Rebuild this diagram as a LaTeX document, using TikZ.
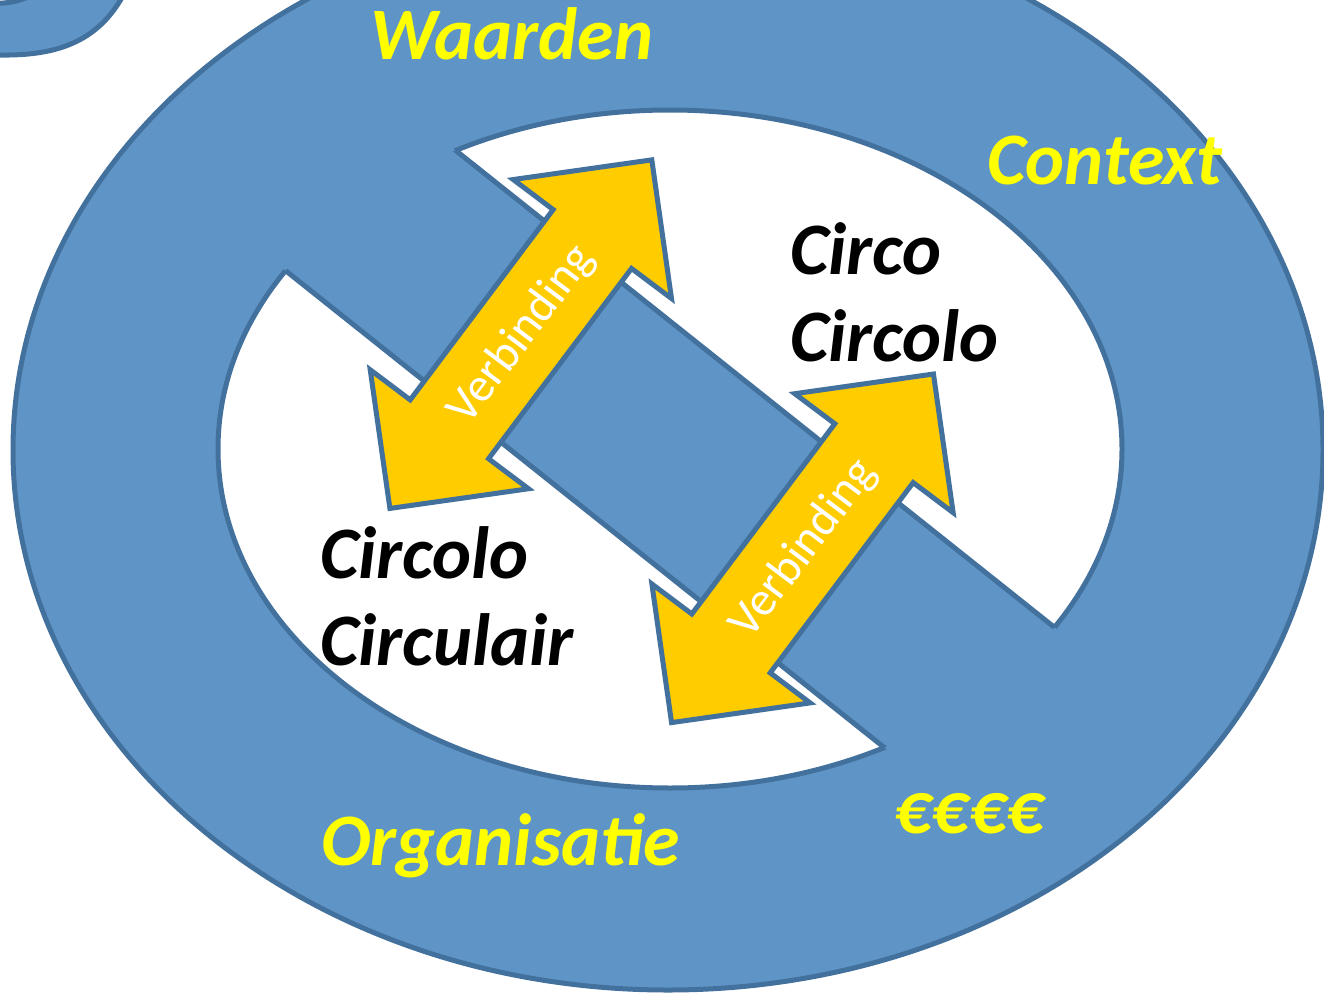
\documentclass[tikz,border=0pt]{standalone}
\usepackage{fontspec}
\setmainfont{Carlito}
\definecolor{ringblue}{RGB}{95,148,199}
\definecolor{edgeblue}{RGB}{67,113,157}
\definecolor{arrowgold}{RGB}{255,204,0}
\definecolor{labelyellow}{RGB}{255,255,0}
\tikzset{
  ringshape/.style={fill=ringblue, draw=edgeblue, line width=5pt},
  holeshape/.style={fill=white, draw=edgeblue, line width=5pt},
  bandfill/.style={fill=ringblue},
  edgeline/.style={draw=edgeblue, line width=5pt},
  dblarrow/.style={fill=arrowgold, draw=edgeblue, line width=5pt},
  arrowlabel/.style={text=white, font=\fontsize{48}{58}\selectfont, inner sep=0pt, rotate=53.08},
  ringlabel/.style={text=labelyellow, font=\fontsize{74}{89}\selectfont\bfseries\itshape, inner sep=0pt, anchor=base west},
  circlabel/.style={text=black, font=\fontsize{74}{89}\selectfont\bfseries\itshape, inner sep=0pt, anchor=base west},
  arrowpic/.pic={
    \path[dblarrow] (218,0) -- (119,99) -- (119,49) -- (-119,49) -- (-119,99) -- (-218,0)
      -- (-119,-99) -- (-119,-49) -- (119,-49) -- (119,-99) -- cycle;
  }
}
\begin{document}
\begin{tikzpicture}[x=1pt, y=-1pt]
\useasboundingbox (0,0) rectangle (1324,995);
\clip (0,0) rectangle (1324,995);
\fill[white] (0,0) rectangle (1324,995);

% fragment of another ring, top-left corner
\fill[ringblue] (-5,3.5) .. controls (10,3) and (24,1) .. (36,-8) -- (125,-8)
  .. controls (100,40) and (60,56) .. (0,55) -- (-5,55) -- cycle;
\draw[edgeline] (-5,55) -- (0,55) .. controls (60,56) and (100,40) .. (125,-8);
\draw[edgeline] (-5,3.5) .. controls (10,3) and (24,1) .. (36,-8);

% main ring
\path[ringshape] (668,450) ellipse [x radius=655pt, y radius=540pt];
\path[holeshape] (670,449) ellipse [x radius=452pt, y radius=339pt];

% diagonal band
\coordinate (A1) at (356.8,71.7);
\coordinate (A2) at (1107.8,669.9);
\coordinate (B2) at (983.2,826.3);
\coordinate (B1) at (232.2,228.1);
\fill[bandfill] (A1) -- (A2) -- (B2) -- (B1) -- cycle;
\begin{scope}
  \clip (670,449) ellipse [x radius=452pt, y radius=339pt];
  \draw[edgeline] (A1) -- (A2);
  \draw[edgeline] (B1) -- (B2);
\end{scope}

% double arrows
\pic[rotate=53.08] at (520.85,334.15) {arrowpic};
\pic[rotate=53.08] at (802.5,548.3) {arrowpic};
\node[arrowlabel] (verb1) at (522,335) {Verbinding};
\node[arrowlabel] (verb2) at (804,549) {Verbinding};

% labels
\node[ringlabel] (waarden) at (370,60) {Waarden};
\node[ringlabel] (context) at (987,185) {Context};
\node[ringlabel] (organisatie) at (321,865) {Organisatie};
\node[ringlabel] (euro) at (894,833) {€€€€};

\node[circlabel] (circo) at (790,274) {Circo};
\node[circlabel] (circolo) at (790,361) {Circolo};
\node[circlabel] (circoloL) at (320,578) {Circolo};
\node[circlabel] (circulair) at (320,665) {Circulair};
\end{tikzpicture}
\end{document}
